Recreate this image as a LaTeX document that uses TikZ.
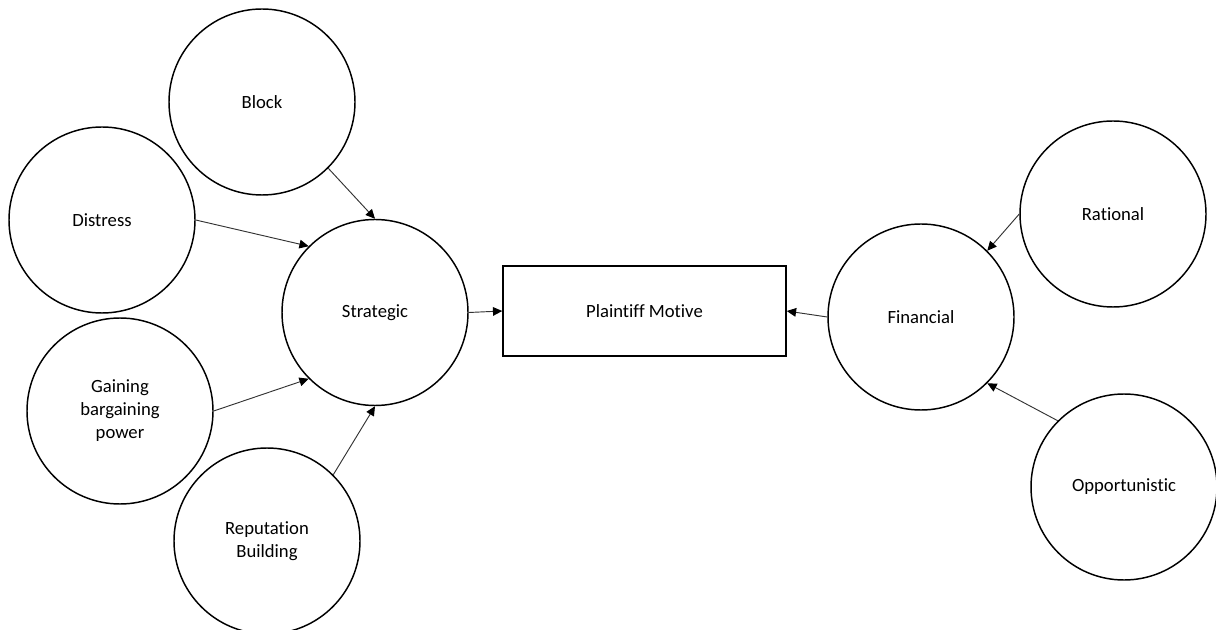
\documentclass[tikz,border=0pt]{standalone}
\usepackage{fontspec}
\setmainfont{Carlito}[Ligatures=NoCommon]
\usetikzlibrary{arrows.meta}
\begin{document}
\begin{tikzpicture}[x=0.75pt,y=-0.75pt,
  label font/.style={font=\fontsize{14}{17.25}\selectfont},
  factor/.style={circle,draw,line width=1.1pt,minimum size=139.5pt,inner sep=0pt,align=center,label font},
  motive/.style={rectangle,draw,line width=1.1pt,minimum width=212.25pt,minimum height=67.5pt,inner sep=0pt,label font},
  link/.style={draw=black!80,line width=0.7pt,-{Triangle[length=7pt,width=6.5pt,color=black]}}]
\useasboundingbox (0,0) rectangle (1216,630);

% strategic drivers
\node[factor] (block)  at (262,102) {Block};
\node[factor] (distress) at (102,220) {Distress};
\node[factor] (gaining) at (120,411) {Gaining\\bargaining\\power};
\node[factor] (reputation) at (267,541) {Reputation\\Building};
\node[factor] (strategic) at (375,312.5) {Strategic};

% central outcome
\node[motive] (motive) at (644.5,311) {Plaintiff Motive};

% financial drivers
\node[factor] (financial) at (921,317) {Financial};
\node[factor] (rational) at (1113,214) {Rational};
\node[factor] (opportunistic) at (1124,487) {Opportunistic};

% connectors
\draw[link] (block.-45) -- (strategic.north);
\draw[link] (distress.east) -- (strategic.135);
\draw[link] (gaining.east) -- (strategic.225);
\draw[link] (reputation.45) -- (strategic.south);
\draw[link] (strategic.east) -- (motive.west);
\draw[link] (financial.west) -- (motive.east);
\draw[link] (rational.west) -- (financial.45);
\draw[link] (opportunistic.135) -- (financial.-45);
\end{tikzpicture}
\end{document}
